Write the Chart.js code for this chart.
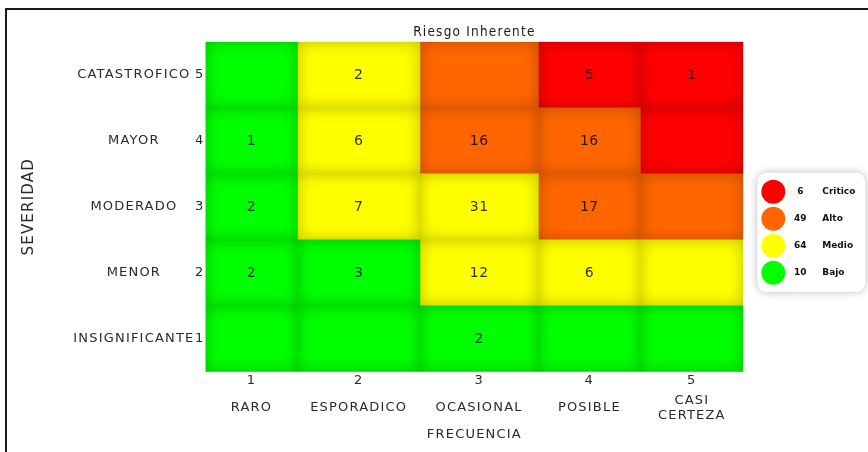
<!DOCTYPE html>
<html>
<head>
<meta charset="utf-8">
<title>Riesgo Inherente</title>
<script src="https://cdn.jsdelivr.net/npm/chart.js@4.4.1/dist/chart.umd.min.js"></script>
<style>
  html, body { margin: 0; padding: 0; background: #ffffff; }
  canvas { display: block; }
</style>
</head>
<body>
<canvas id="risk" width="868" height="452"></canvas>
<script>
// Frequency levels (columns, left to right) and severity levels (rows, top to bottom)
const frequencyLevels = ['1', '2', '3', '4', '5'];
const frequencyNames = ['RARO', 'ESPORADICO', 'OCASIONAL', 'POSIBLE', ['CASI', 'CERTEZA']];
const severityLevels = ['5', '4', '3', '2', '1'];
const severityNames = ['CATASTROFICO', 'MAYOR', 'MODERADO', 'MENOR', 'INSIGNIFICANTE'];

// Number of risks per cell, one array per severity row (frequency 1..5)
const countsCatastrofico = [null, 2, null, 5, 1];
const countsMayor = [1, 6, 16, 16, null];
const countsModerado = [2, 7, 31, 17, null];
const countsMenor = [2, 3, 12, 6, null];
const countsInsignificante = [null, null, 2, null, null];

// Risk level of each cell: C = Critico, A = Alto, M = Medio, B = Bajo
const levelsCatastrofico = ['B', 'M', 'A', 'C', 'C'];
const levelsMayor = ['B', 'M', 'A', 'A', 'C'];
const levelsModerado = ['B', 'M', 'M', 'A', 'A'];
const levelsMenor = ['B', 'B', 'M', 'M', 'M'];
const levelsInsignificante = ['B', 'B', 'B', 'B', 'B'];

const levelCodes = ['C', 'A', 'M', 'B'];
const levelNames = ['Critico', 'Alto', 'Medio', 'Bajo'];

// ---- presentation ----
const levelColors = { C: '#ff0000', A: '#ff6600', M: '#ffff00', B: '#00ff00' };
// column boundaries on the frequency axis (the columns have different widths)
const columnEdges = [0, 92, 214.5, 333, 435, 538];
const FONT = "'DejaVu Sans', Verdana, sans-serif";
const LABEL_COLOR = '#2a2a2a';

const countRows = [countsCatastrofico, countsMayor, countsModerado, countsMenor, countsInsignificante];
const levelRows = [levelsCatastrofico, levelsMayor, levelsModerado, levelsMenor, levelsInsignificante];
const columnCenters = frequencyLevels.map((_, c) => (columnEdges[c] + columnEdges[c + 1]) / 2);

// totals per risk level, summed from the cells
const levelTotals = levelCodes.map(code => {
  let total = 0;
  levelRows.forEach((row, r) => row.forEach((lv, c) => {
    if (lv === code && countRows[r][c] != null) total += countRows[r][c];
  }));
  return total;
});

// one floating-bar dataset per frequency column, one bar per severity row
const datasets = frequencyLevels.map((f, c) => ({
  label: f,
  data: severityLevels.map(() => [columnEdges[c], columnEdges[c + 1]]),
  backgroundColor: levelRows.map(row => levelColors[row[c]]),
  borderWidth: 0,
  borderSkipped: false,
  grouped: false,
  barPercentage: 1,
  categoryPercentage: 1
}));

const centerTicks = scale => { scale.ticks = columnCenters.map(v => ({ value: v })); };
const noGrid = { display: false, drawTicks: false };

// wider tracking for all chart text
const textTracking = {
  id: 'textTracking',
  beforeUpdate(chart) { chart.ctx.letterSpacing = '1.2px'; },
  beforeLayout(chart) { chart.ctx.letterSpacing = '1.2px'; },
  beforeDraw(chart) { chart.ctx.letterSpacing = '1.2px'; }
};

// frame lines around the figure
const frame = {
  id: 'frame',
  beforeDraw(chart) {
    const ctx = chart.ctx;
    ctx.save();
    ctx.fillStyle = '#1a1a1a';
    ctx.fillRect(5, 8, chart.width - 5, 2);
    ctx.fillRect(5, 8, 2, chart.height - 8);
    ctx.restore();
  }
};

// soft inner shade on every cell, then the count in its centre
const SHIFT = 3000;
const cellDecor = {
  id: 'cellDecor',
  afterDatasetsDraw(chart) {
    const ctx = chart.ctx;
    chart.data.datasets.forEach((ds, c) => {
      chart.getDatasetMeta(c).data.forEach((bar, r) => {
        const p = bar.getProps(['x', 'y', 'base', 'height'], true);
        const left = Math.min(p.x, p.base);
        const w = Math.abs(p.x - p.base);
        const top = p.y - p.height / 2;
        const h = p.height;
        ctx.save();
        ctx.beginPath();
        ctx.rect(left, top, w, h);
        ctx.clip();
        // the ring itself is drawn far off to the side; only its shadow lands in the cell
        ctx.shadowColor = 'rgba(0,0,0,0.26)';
        ctx.shadowBlur = 16;
        ctx.shadowOffsetX = -SHIFT;
        ctx.beginPath();
        ctx.rect(left + SHIFT - 80, top - 80, w + 160, h + 160);
        ctx.rect(left + SHIFT, top, w, h);
        ctx.fillStyle = '#000';
        ctx.fill('evenodd');
        ctx.restore();

        const n = countRows[r][c];
        if (n != null) {
          ctx.save();
          ctx.letterSpacing = '0.5px';
          ctx.font = '14px ' + FONT;
          ctx.fillStyle = 'rgba(0,0,0,0.8)';
          ctx.textAlign = 'center';
          ctx.textBaseline = 'middle';
          ctx.fillText(String(n), left + w / 2, p.y + 1);
          ctx.restore();
        }
      });
    });
  }
};

// level key: coloured dots with totals and names
const riskKey = {
  id: 'riskKey',
  afterDraw(chart) {
    const ctx = chart.ctx;
    const a = chart.chartArea;
    const bx = a.right + 14, by = a.top + 131, bw = 108, bh = 119;
    ctx.save();
    ctx.letterSpacing = '0px';
    ctx.shadowColor = 'rgba(0,0,0,0.28)';
    ctx.shadowBlur = 8;
    ctx.fillStyle = '#ffffff';
    ctx.beginPath();
    ctx.roundRect(bx, by, bw, bh, 9);
    ctx.fill();
    ctx.shadowColor = 'transparent';
    levelCodes.forEach((code, i) => {
      const cy = by + 19 + i * 27;
      ctx.fillStyle = levelColors[code];
      ctx.beginPath();
      ctx.arc(bx + 16, cy, 12, 0, Math.PI * 2);
      ctx.fill();
      ctx.fillStyle = '#111';
      ctx.font = 'bold 9px ' + FONT;
      ctx.textBaseline = 'middle';
      ctx.textAlign = 'center';
      ctx.fillText(String(levelTotals[i]), bx + 43, cy);
      ctx.textAlign = 'left';
      ctx.fillText(levelNames[i], bx + 65, cy);
    });
    ctx.restore();
  }
};

const tickFont = { family: FONT, size: 13 };

new Chart(document.getElementById('risk'), {
  type: 'bar',
  data: { labels: severityLevels, datasets },
  options: {
    indexAxis: 'y',
    responsive: false,
    animation: false,
    events: [],
    devicePixelRatio: 1,
    layout: { padding: { left: 0, right: 124.7, top: 0, bottom: 0 } },
    plugins: {
      legend: { display: false },
      tooltip: { enabled: false },
      title: {
        display: true,
        text: 'Riesgo Inherente',
        fullSize: false,
        color: '#1a1a1a',
        font: { family: "'DejaVu Sans Condensed', " + FONT, size: 13.5, weight: 'normal' },
        padding: { top: 24.6, bottom: 1 }
      }
    },
    scales: {
      x: {
        type: 'linear', position: 'bottom', weight: 0, min: 0, max: columnEdges[columnEdges.length - 1],
        grid: noGrid, border: { display: false },
        afterBuildTicks: centerTicks,
        afterFit: s => { s.height = 16; },
        ticks: {
          autoSkip: false, maxRotation: 0, padding: 1, color: LABEL_COLOR, font: tickFont,
          callback: (v, i) => frequencyLevels[i]
        }
      },
      xName: {
        type: 'linear', position: 'bottom', weight: 1, min: 0, max: columnEdges[columnEdges.length - 1],
        grid: noGrid, border: { display: false },
        afterBuildTicks: centerTicks,
        afterFit: s => { s.height = 64.3; },
        ticks: {
          autoSkip: false, maxRotation: 0, padding: 12.5, crossAlign: 'center',
          color: LABEL_COLOR, font: tickFont,
          callback: (v, i) => frequencyNames[i]
        },
        title: {
          display: true, text: 'FRECUENCIA', color: LABEL_COLOR, font: tickFont,
          padding: { top: 0, bottom: 9.5 }
        }
      },
      y: {
        type: 'category', position: 'left', weight: 0, offset: true,
        grid: noGrid, border: { display: false },
        afterFit: s => { s.width = 10; },
        ticks: { padding: 1, color: LABEL_COLOR, font: tickFont }
      },
      yName: {
        type: 'category', labels: severityNames, position: 'left', weight: 1, offset: true,
        grid: noGrid, border: { display: false },
        afterFit: s => { s.width = 195.5; },
        ticks: { padding: 1, crossAlign: 'center', color: LABEL_COLOR, font: tickFont },
        title: {
          display: true, text: 'SEVERIDAD', color: LABEL_COLOR,
          font: { family: FONT, size: 15 },
          padding: { top: 20, bottom: 0 }
        }
      }
    }
  },
  plugins: [textTracking, frame, cellDecor, riskKey]
});
</script>
</body>
</html>
